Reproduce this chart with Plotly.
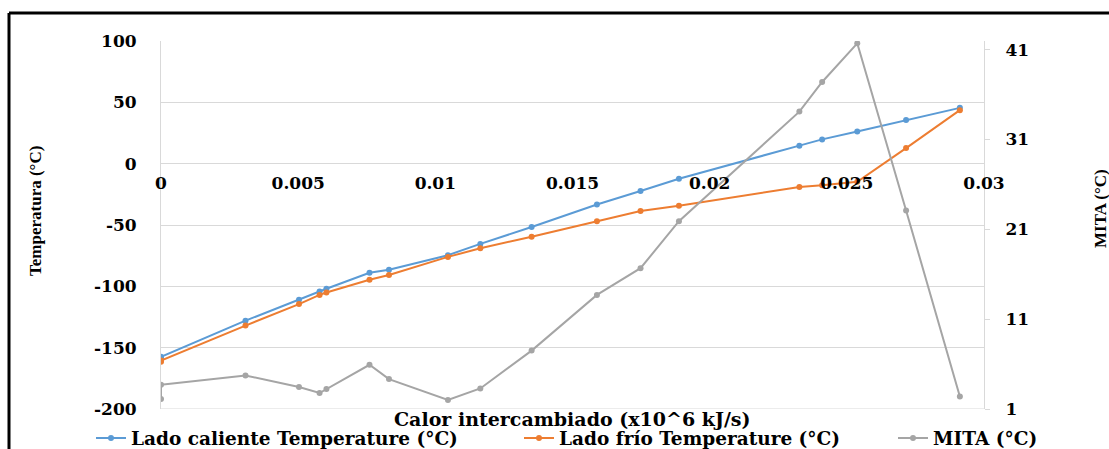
import plotly.graph_objects as go

# Heat exchanged (x10^6 kJ/s)
calor = [0.0, 0.0, 0.00308, 0.00503, 0.00578, 0.00603, 0.0076, 0.00831, 0.01046,
         0.01164, 0.01351, 0.01589, 0.01748, 0.01888, 0.02327, 0.0241, 0.02538,
         0.02716, 0.02912]

# Hot-side and cold-side temperatures (°C)
lado_caliente = [-158.5, -157.5, -128, -111, -104.3, -102, -89, -86.4, -74.6,
                 -65.4, -51.6, -33.3, -22.3, -12.3, 14.7, 19.8, 26.2, 35.5, 45.5]
lado_frio = [-161.5, -160.5, -132, -114.5, -107, -105, -94.7, -90.7, -76,
             -69, -59.5, -47, -38.6, -34.3, -19, -17.6, -14.7, 12.7, 43.6]

# Minimum internal temperature approach (°C)
mita = [2.1, 3.7, 4.73, 3.44, 2.78, 3.22, 5.92, 4.33, 2.0,
        3.29, 7.5, 13.7, 16.67, 21.9, 34.1, 37.4, 41.7, 23.1, 2.4]

x_ticks = [0, 0.005, 0.01, 0.015, 0.02, 0.025, 0.03]
x_tick_text = ["0", "0.005", "0.01", "0.015", "0.02", "0.025", "0.03"]
y_ticks = [100, 50, 0, -50, -100, -150, -200]
y_tick_text = ["100", "50", "0", "-50", "-100", "-150", "-200"]
y2_ticks = [1, 11, 21, 31, 41]

W, H = 1109, 449
ML, MR, MT, MB = 161, 125, 41, 40
PW, PH = W - ML - MR, H - MT - MB
Y_RANGE = [-200, 100]
Y2_RANGE = [1, 41.96]


def px_x(p):
    return (p - ML) / PW


def px_y(p):
    return (H - MB - p) / PH


tick_font = dict(family="DejaVu Serif", size=17, color="#000000", weight="bold")
title_font = dict(family="DejaVu Serif", size=19, color="#000000", weight="bold")
legend_font = dict(family="DejaVu Serif", size=18.5, color="#000000", weight="bold")
grid = "#d9d9d9"

series = [
    ("Lado caliente Temperature (°C)", lado_caliente, "#5B9BD5", "y", "legend"),
    ("Lado frío Temperature (°C)", lado_frio, "#ED7D31", "y", "legend2"),
    ("MITA (°C)", mita, "#A5A5A5", "y2", "legend3"),
]

fig = go.Figure()
for name, values, color, axis, leg in series:
    fig.add_trace(go.Scatter(
        x=calor, y=values, name=name, mode="lines+markers",
        line=dict(color=color, width=2), marker=dict(size=6, color=color),
        yaxis=axis, legend=leg))

# horizontal axis crosses the temperature axis at 0
zero_pos = (0 - Y_RANGE[0]) / (Y_RANGE[1] - Y_RANGE[0])


def legend_at(left_px):
    return dict(orientation="h", x=px_x(left_px), xanchor="left", y=px_y(438.5),
                yanchor="middle", font=legend_font, bgcolor="rgba(0,0,0,0)")


fig.update_layout(
    width=W, height=H,
    margin=dict(l=ML, r=MR, t=MT, b=MB, autoexpand=False),
    paper_bgcolor="white", plot_bgcolor="white",
    showlegend=True,
    xaxis=dict(range=[0, 0.03], tickvals=x_ticks, ticktext=x_tick_text,
               anchor="free", position=zero_pos, showgrid=False, zeroline=False,
               showline=False, ticks="", tickfont=tick_font,
               ticklabelstandoff=7),
    yaxis=dict(range=Y_RANGE, tickvals=y_ticks, ticktext=y_tick_text,
               showgrid=True, gridcolor=grid, gridwidth=1, zeroline=False,
               showline=True, linecolor=grid, linewidth=1, ticks="",
               tickfont=tick_font, ticklabelstandoff=20),
    yaxis2=dict(range=Y2_RANGE, tickvals=y2_ticks, overlaying="y", side="right",
                showgrid=False, zeroline=False, showline=True, linecolor=grid,
                linewidth=1, ticks="outside", ticklen=5, tickcolor=grid,
                tickfont=tick_font, ticklabelstandoff=12),
    legend=legend_at(91),
    legend2=legend_at(519),
    legend3=legend_at(893),
    annotations=[
        dict(text="Calor intercambiado (x10^6 kJ/s)", xref="paper", yref="paper",
             x=0.5, y=px_y(419), xanchor="center", yanchor="middle",
             showarrow=False, font=title_font),
        dict(text="Temperatura (°C)", xref="paper", yref="paper",
             x=px_x(35), y=px_y(211), xanchor="center", yanchor="middle",
             textangle=-90, showarrow=False,
             font=dict(family="Liberation Serif", size=17, color="#000000",
                       weight="bold")),
        dict(text="MITA (°C)", xref="paper", yref="paper",
             x=px_x(1100), y=px_y(209), xanchor="center", yanchor="middle",
             textangle=-90, showarrow=False,
             font=dict(family="Liberation Serif", size=17, color="#000000",
                       weight="bold")),
    ],
    shapes=[
        # bottom gridline
        dict(type="line", xref="paper", yref="y", x0=0, x1=1, y0=-200, y1=-200,
             line=dict(color=grid, width=1), layer="below"),
        # outer frame (top and left edges)
        dict(type="line", xref="paper", yref="paper", x0=px_x(9), x1=px_x(W + 5),
             y0=px_y(13), y1=px_y(13), line=dict(color="#000000", width=3)),
        dict(type="line", xref="paper", yref="paper", x0=px_x(9), x1=px_x(9),
             y0=px_y(13), y1=px_y(H + 5), line=dict(color="#000000", width=3)),
    ],
)

fig.write_html("out.html")
